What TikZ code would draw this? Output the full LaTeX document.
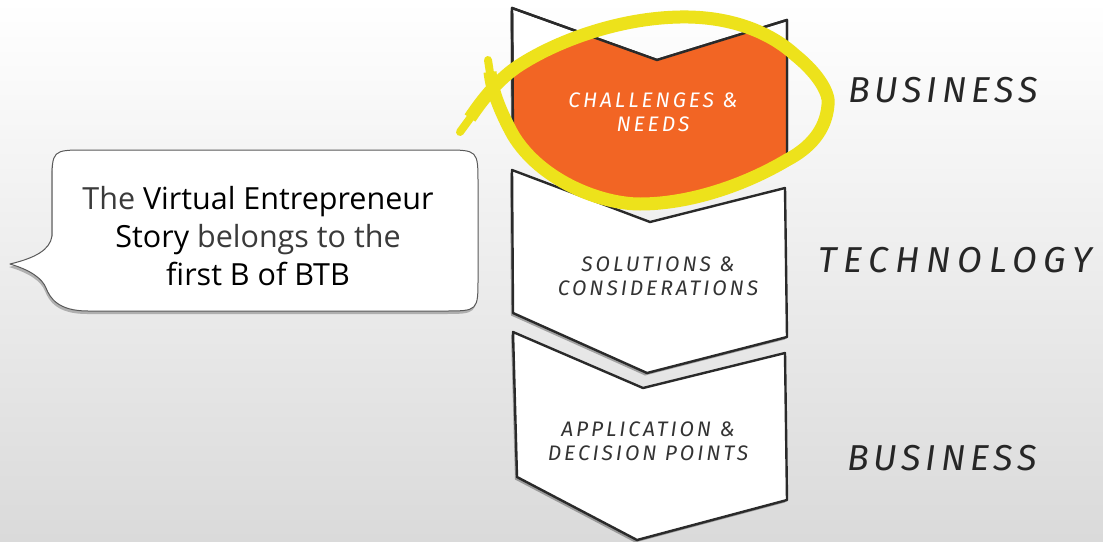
\documentclass[tikz,border=0pt]{standalone}
\usepackage{fontspec}
\usetikzlibrary{shadows}
\setmainfont{Open Sans}
\newfontfamily\sketchfont{Fira Sans}
\newfontfamily\bubblefont{Open Sans}

\definecolor{bgbottom}{HTML}{DADADA}
\definecolor{orangefill}{HTML}{F26524}
\definecolor{ringyellow}{HTML}{EDE21B}
\definecolor{inkline}{HTML}{2A2A2A}
\definecolor{softtext}{HTML}{3A3A3A}

\begin{document}
\begin{tikzpicture}[x=1pt,y=-1pt,
  chevron/.style={fill=white, draw=inkline, line width=2.4pt, line join=round,
    drop shadow={shadow xshift=-2pt, shadow yshift=-2.5pt, opacity=0.3, fill=black}},
  outline/.style={draw=inkline, line width=2.4pt, line join=round},
  steplabel/.style={font=\sketchfont\itshape\fontsize{21}{24}\selectfont\addfontfeature{LetterSpace=14},
    align=center, inner sep=0pt},
  sidelabel/.style={font=\sketchfont\itshape\fontsize{36}{40}\selectfont, text=black!85, inner sep=0pt, anchor=base},
  ring/.style={draw=ringyellow, line width=13pt, line cap=butt, line join=round},
  ringtip/.style={draw=ringyellow, line width=8pt, line cap=round},
  bubble/.style={fill=white, draw=black!65, line width=1pt, line join=round,
    drop shadow={shadow xshift=-1pt, shadow yshift=-3pt, opacity=0.25, fill=black}},
  storytext/.style={font=\bubblefont\fontsize{30.5}{38}\selectfont, align=center, text=softtext, inner sep=0pt}]

% canvas with a soft vertical gradient
\useasboundingbox (0,0) rectangle (1103,541);
\shade[top color=white, bottom color=bgbottom] (0,0) rectangle (1103,541);

% hand-drawn highlight loop around the first step (its two ends cross on the left)
\def\loopline{(470,118) .. controls (486,94) and (503,75) .. (523,63)
  .. controls (560,40) and (620,18) .. (680,17)
  .. controls (730,16) and (770,32) .. (795,55)
  .. controls (820,75) and (830,95) .. (828,105)
  .. controls (826,130) and (810,148) .. (787,160)
  .. controls (745,185) and (690,204) .. (640,204)
  .. controls (600,204) and (540,180) .. (513,135)
  .. controls (502,115) and (492,92) .. (490,72)}

% the three chevron steps
\path[chevron] (512,8) -- (657,60) -- (787,20) -- (787,150) -- (650,185) -- (513,125) -- cycle;
\path[chevron] (512,170) -- (650,222) -- (785,188) -- (787,337) -- (647,373) -- (513,313) -- cycle;
\path[chevron] (513,332) -- (643,388) -- (785,353) -- (787,500) -- (637,540) -- (517,477) -- cycle;

% highlighted first step: orange inside the loop
\begin{scope}
  \clip \loopline -- cycle;
  \fill[orangefill] (512,8) -- (657,60) -- (787,20) -- (787,240) -- (513,240) -- cycle;
\end{scope}
\draw[outline] (513,135) -- (512,8) -- (657,60) -- (787,20) -- (787,160);

% step labels
\node[steplabel, text=white] (needs) at (653,112) {CHALLENGES \&\\NEEDS};
\node[steplabel, text=black!80] (solutions) at (658,276) {SOLUTIONS \&\\CONSIDERATIONS};
\node[steplabel, text=black!80] (decisions) at (648,441) {APPLICATION \&\\DECISION POINTS};

% yellow highlight loop with thinning ends
\draw[ring] \loopline;
\draw[ringtip] (471,117) -- (460,132);
\draw[ringtip] (490,73) -- (488,60);

% side labels
\node[sidelabel] (biz1) at (943,102) {\addfontfeature{LetterSpace=13}BUSINESS};
\node[sidelabel] (tech) at (955,272) {\addfontfeature{LetterSpace=19}TECHNOLOGY};
\node[sidelabel] (biz2) at (942,470) {\addfontfeature{LetterSpace=13}BUSINESS};

% speech bubble
\path[bubble] (10,264)
  .. controls (35,258) and (50,250) .. (52,236)
  -- (52,184) .. controls (52,150) .. (86,150)
  -- (444,150) .. controls (478,150) .. (478,184)
  -- (478,278) .. controls (478,311) .. (444,311)
  -- (88,311) .. controls (58,311) and (50,298) .. (46,288)
  .. controls (42,278) and (30,270) .. (10,264) -- cycle;
\node[storytext] (story) at (258,236)
  {The {\color{black}Virtual Entrepreneur}\\
   {\color{black}Story} belongs to the\\
   {\color{black}first B of BTB}};

\end{tikzpicture}
\end{document}
